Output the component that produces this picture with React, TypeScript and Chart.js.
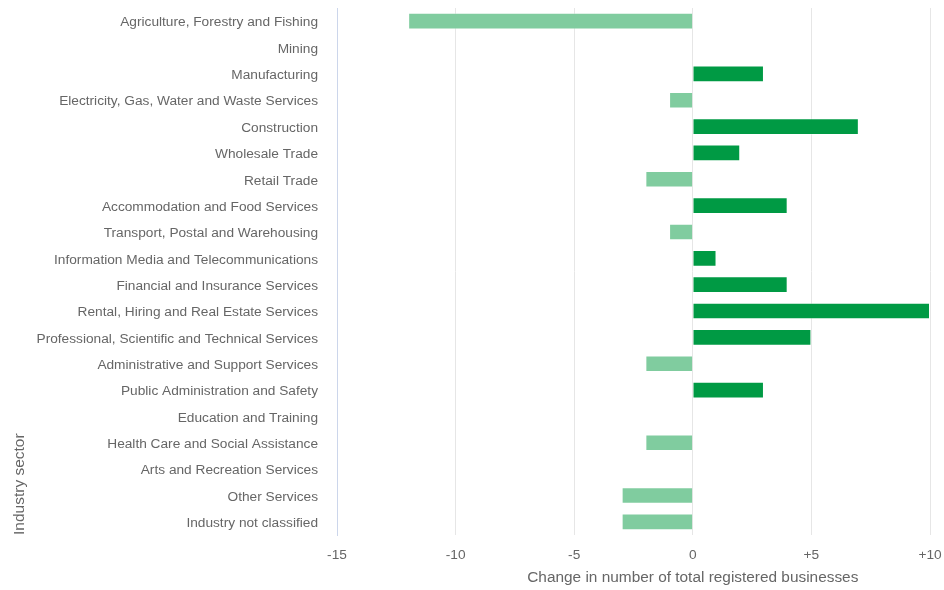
import React, { useEffect, useRef } from "react";
import { Chart, registerables } from "chart.js";

Chart.register(...registerables);

const categories: string[] = [
  "Agriculture, Forestry and Fishing",
  "Mining",
  "Manufacturing",
  "Electricity, Gas, Water and Waste Services",
  "Construction",
  "Wholesale Trade",
  "Retail Trade",
  "Accommodation and Food Services",
  "Transport, Postal and Warehousing",
  "Information Media and Telecommunications",
  "Financial and Insurance Services",
  "Rental, Hiring and Real Estate Services",
  "Professional, Scientific and Technical Services",
  "Administrative and Support Services",
  "Public Administration and Safety",
  "Education and Training",
  "Health Care and Social Assistance",
  "Arts and Recreation Services",
  "Other Services",
  "Industry not classified",
];

const changes: number[] = [-12, 0, 3, -1, 7, 2, -2, 4, -1, 1, 4, 10, 5, -2, 3, 0, -2, 0, -3, -3];

const xMin = -15;
const xMax = 10;
const xStep = 5;
const xTitle = "Change in number of total registered businesses";
const yTitle = "Industry sector";

const POS = "#009A44";
const NEG = "#80CC9F";
const FONT = "'Liberation Sans', Arial, sans-serif";

export default function App() {
  const ref = useRef<HTMLCanvasElement | null>(null);
  useEffect(() => {
    document.body.style.margin = "0";
    const canvas = ref.current;
    if (!canvas) return;
    const titlePlugin = {
      id: "xTitleAtZero",
      afterDraw(chart: any) {
        const x = chart.scales.x;
        const ctx = chart.ctx;
        ctx.save();
        ctx.font = `15.4px ${FONT}`;
        ctx.fillStyle = "#666666";
        ctx.textAlign = "center";
        ctx.textBaseline = "middle";
        ctx.fillText(xTitle, x.getPixelForValue(0), 578);
        ctx.restore();
      },
    };
    const chart = new Chart(canvas, {
      type: "bar",
      data: {
        labels: categories,
        datasets: [
          {
            data: changes,
            backgroundColor: changes.map((v) => (v >= 0 ? POS : NEG)),
            borderColor: "rgba(255,255,255,0.35)",
            borderWidth: 1,
            categoryPercentage: 1,
            barPercentage: 0.63,
          },
        ],
      },
      options: {
        indexAxis: "y",
        animation: false,
        responsive: false,
        maintainAspectRatio: false,
        layout: { padding: { top: 8, right: 14, left: 0, bottom: 0 } },
        plugins: {
          legend: { display: false },
          tooltip: { enabled: false },
        },
        scales: {
          x: {
            type: "linear",
            min: xMin,
            max: xMax,
            ticks: {
              stepSize: xStep,
              color: "#666666",
              font: { family: FONT, size: 13.7 },
              padding: 12,
              callback: (v: any) => (Number(v) > 0 ? "+" + v : String(v)),
            },
            grid: { color: "#e6e6e6", lineWidth: 1, drawTicks: false },
            border: { display: false },
            afterFit: (s: any) => {
              s.height = 55;
              s.paddingLeft = 0;
              s.paddingRight = 0;
            },
          },
          y: {
            type: "category",
            offset: true,
            ticks: {
              color: "#666666",
              font: { family: FONT, size: 13.7 },
              padding: 19,
              autoSkip: false,
              labelOffset: 1.5,
            },
            grid: { display: false, drawTicks: false },
            border: { display: true, color: "#ccd6eb", width: 1 },
            title: {
              display: true,
              text: yTitle,
              align: "start",
              color: "#666666",
              font: { family: FONT, size: 15.5 },
              padding: { top: 10, bottom: 0 },
            },
            afterFit: (s: any) => {
              s.width = 337;
              s.paddingTop = 0;
              s.paddingBottom = 0;
            },
          },
        },
      },
      plugins: [titlePlugin],
    } as any);
    return () => chart.destroy();
  }, []);
  return (
    <div style={{ width: 944, height: 590 }}>
      <canvas ref={ref} width={944} height={590} style={{ display: "block" }} />
    </div>
  );
}
